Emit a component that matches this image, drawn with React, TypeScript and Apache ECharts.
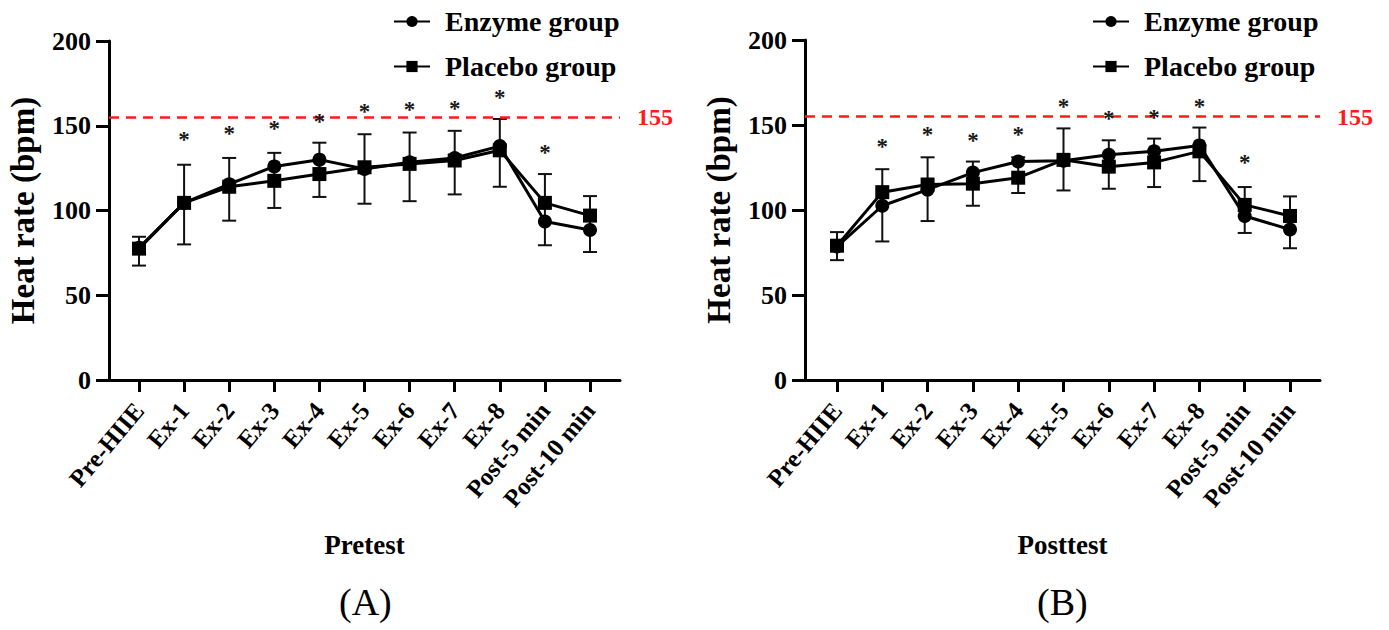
import React, { useEffect, useRef } from "react";
import * as echarts from "echarts";

const categories = ["Pre-HIIE", "Ex-1", "Ex-2", "Ex-3", "Ex-4", "Ex-5", "Ex-6", "Ex-7", "Ex-8", "Post-5 min", "Post-10 min"];
const yTicks = [0, 50, 100, 150, 200];
const thresholdHR = 155;

// Pretest (A)
const preEnzyme = [78, 104.5, 115.5, 126, 130, 124.5, 128.5, 131, 138, 93.5, 88.5];
const prePlacebo = [77.5, 104.5, 114, 117.5, 121.5, 125.5, 127.5, 129.5, 135.5, 104.5, 97];
const preErrHigh = [84.5, 127, 131, 134, 140, 145, 146, 147, 154, 121.5, 108.5];
const preErrLow = [67.5, 80, 94, 101.5, 108, 104, 105.5, 109.5, 114, 79.5, 75.5];
const preStars = [null, 144, 147.5, 150.5, 155, 161, 162, 162.5, 169, 136.5, null];

// Posttest (B)
const postEnzyme = [78.5, 102.5, 112, 122, 128.5, 129, 132.5, 134.5, 138, 96.5, 88.5];
const postPlacebo = [79, 110.5, 115, 115.5, 119, 129.5, 125.5, 128, 134.5, 103, 96.5];
const postErrHigh = [87, 124, 131, 128.5, 131, 148, 141, 142, 148.5, 113.5, 108];
const postErrLow = [70.5, 81.5, 93.5, 102.5, 110, 111.5, 112.5, 113.5, 117, 86.5, 77.5];
const postStars = [null, 140, 146.5, 143.5, 146.5, 163.5, 156, 157, 163.5, 130.5, null];

const FONT = '"Liberation Serif", "Times New Roman", serif';

function panelSeries(idx: number, enzyme: number[], placebo: number[], hi: number[], lo: number[], stars: (number | null)[]) {
  const pts = (arr: number[]) => arr.map((v, i) => [i, v]);
  return [
    {
      type: "custom",
      name: "err" + idx,
      xAxisIndex: idx,
      yAxisIndex: idx,
      silent: true,
      data: categories.map((_, i) => [i, hi[i], lo[i]]),
      encode: { x: 0, y: [1, 2] },
      renderItem: (params: any, api: any) => {
        const x = api.value(0);
        const h = api.coord([x, api.value(1)]);
        const l = api.coord([x, api.value(2)]);
        const cap = 7;
        const st = { stroke: "#111", lineWidth: 2 };
        return {
          type: "group",
          children: [
            { type: "line", shape: { x1: h[0], y1: h[1], x2: l[0], y2: l[1] }, style: st },
            { type: "line", shape: { x1: h[0] - cap, y1: h[1], x2: h[0] + cap, y2: h[1] }, style: st },
            { type: "line", shape: { x1: l[0] - cap, y1: l[1], x2: l[0] + cap, y2: l[1] }, style: st },
          ],
        };
      },
      z: 2,
    },
    {
      type: "line",
      name: "Enzyme group",
      xAxisIndex: idx,
      yAxisIndex: idx,
      data: pts(enzyme),
      symbol: "circle",
      symbolSize: 14,
      lineStyle: { color: "#000", width: 3 },
      itemStyle: { color: "#000" },
      z: 3,
      markLine: {
        silent: true,
        symbol: "none",
        data: [{ yAxis: thresholdHR }],
        lineStyle: { color: "#ff1a1a", width: 2.5, type: [10, 7] },
        label: {
          show: true,
          position: "end",
          formatter: String(thresholdHR),
          color: "#ff1a1a",
          fontFamily: FONT,
          fontWeight: "bold",
          fontSize: 24,
          distance: 17,
        },
      },
    },
    {
      type: "line",
      name: "Placebo group",
      xAxisIndex: idx,
      yAxisIndex: idx,
      data: pts(placebo),
      symbol: "rect",
      symbolSize: 14,
      lineStyle: { color: "#000", width: 3 },
      itemStyle: { color: "#000" },
      z: 4,
    },
    {
      type: "custom",
      name: "sig" + idx,
      xAxisIndex: idx,
      yAxisIndex: idx,
      silent: true,
      data: stars.flatMap((v, i) => (v == null ? [] : [[i, v]])),
      encode: { x: 0, y: 1 },
      renderItem: (params: any, api: any) => {
        const p = api.coord([api.value(0), api.value(1)]);
        return {
          type: "text",
          x: p[0],
          y: p[1] + 4,
          style: {
            text: "*",
            font: `bold 23px ${FONT}`,
            fill: "#1a1a1a",
            textAlign: "center",
            textVerticalAlign: "middle",
          },
        };
      },
      z: 5,
    },
  ];
}

function xAxisCfg(idx: number, min: number, max: number, title: string) {
  return {
    type: "value",
    gridIndex: idx,
    min,
    max,
    name: title,
    nameLocation: "middle",
    nameGap: 151,
    nameTextStyle: { fontFamily: FONT, fontWeight: "bold", fontSize: 27, color: "#000" },
    splitLine: { show: false },
    axisLine: { show: true, onZero: false, lineStyle: { color: "#000", width: 3 } },
    axisTick: {
      show: true,
      length: 12,
      lineStyle: { color: "#000", width: 3 },
      customValues: categories.map((_, i) => i),
    },
    axisLabel: {
      customValues: categories.map((_, i) => i),
      formatter: (v: number) => categories[Math.round(v)],
      rotate: 50,
      margin: 26,
      fontFamily: FONT,
      fontWeight: "bold",
      fontSize: 25,
      color: "#000",
    },
  };
}

function yAxisCfg(idx: number) {
  return {
    type: "value",
    gridIndex: idx,
    min: yTicks[0],
    max: yTicks[yTicks.length - 1],
    interval: 50,
    name: "Heat rate (bpm)",
    nameLocation: "middle",
    nameRotate: 90,
    nameGap: 70,
    nameTextStyle: { fontFamily: FONT, fontWeight: "bold", fontSize: 33, color: "#000" },
    splitLine: { show: false },
    axisLine: { show: true, onZero: false, lineStyle: { color: "#000", width: 3 } },
    axisTick: { show: true, length: 13, lineStyle: { color: "#000", width: 3 } },
    axisLabel: { margin: 18, fontFamily: FONT, fontWeight: "bold", fontSize: 26, color: "#000" },
  };
}

function legendCfg(left: number) {
  return {
    orient: "vertical",
    left,
    top: 0,
    itemWidth: 36,
    itemHeight: 14,
    itemGap: 12,
    data: ["Enzyme group", "Placebo group"],
    textStyle: {
      fontFamily: FONT,
      fontWeight: "bold",
      fontSize: 28,
      lineHeight: 33,
      color: "#000",
      padding: [0, 0, 0, 10],
    },
  };
}

export default function App() {
  const ref = useRef<HTMLDivElement>(null);
  useEffect(() => {
    if (!ref.current) return;
    const chart = echarts.init(ref.current, undefined, { renderer: "svg" });
    chart.setOption({
      animation: false,
      backgroundColor: "#fff",
      grid: [
        { left: 109, top: 41, width: 511, height: 339 },
        { left: 805, top: 40, width: 515, height: 340 },
      ],
      legend: [legendCfg(388), legendCfg(1087)],
      xAxis: [xAxisCfg(0, -0.665, 10.665, "Pretest"), xAxisCfg(1, -0.706, 10.662, "Posttest")],
      yAxis: [yAxisCfg(0), yAxisCfg(1)],
      graphic: [
        { type: "text", left: 339, top: 583, style: { text: "(A)", font: `38px ${FONT}`, fill: "#000" } },
        { type: "text", left: 1037, top: 583, style: { text: "(B)", font: `38px ${FONT}`, fill: "#000" } },
      ],
      series: [
        ...panelSeries(0, preEnzyme, prePlacebo, preErrHigh, preErrLow, preStars),
        ...panelSeries(1, postEnzyme, postPlacebo, postErrHigh, postErrLow, postStars),
      ],
    });
    return () => chart.dispose();
  }, []);
  return <div ref={ref} style={{ position: "absolute", left: 0, top: 0, width: 1389, height: 630 }} />;
}
